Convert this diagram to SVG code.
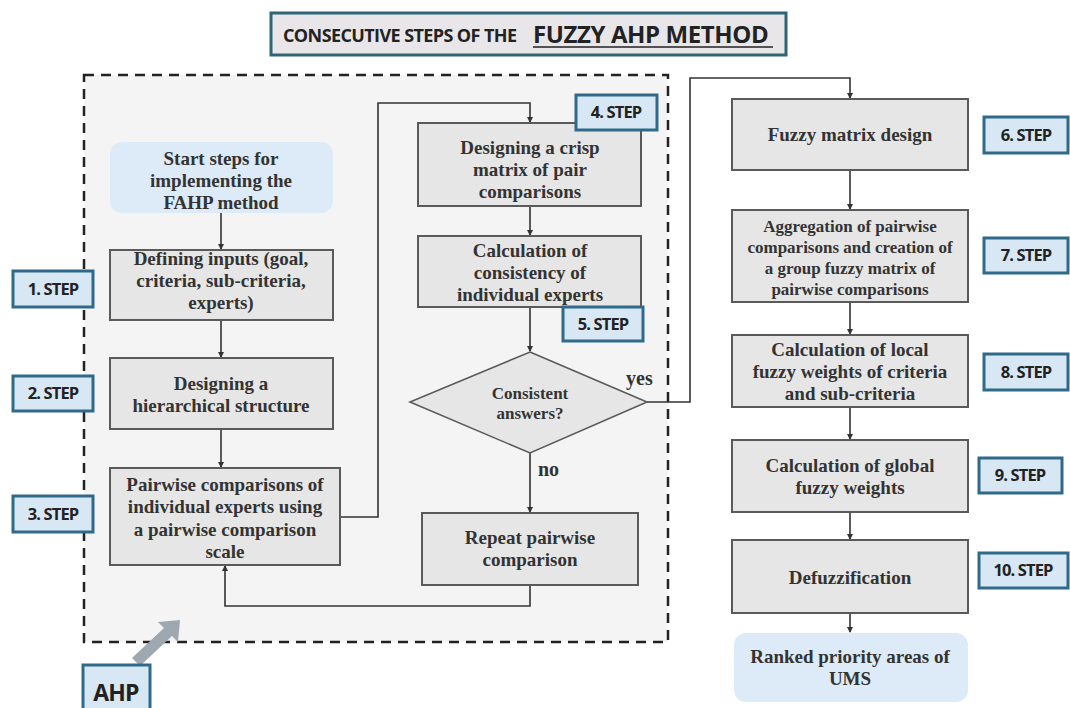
<svg xmlns="http://www.w3.org/2000/svg" width="1070" height="708" viewBox="0 0 1070 708">
<defs>
<marker id="ah" markerWidth="6" markerHeight="6" refX="5" refY="3" orient="auto" markerUnits="userSpaceOnUse">
<path d="M0,0 L6,3 L0,6 z" fill="#333"/>
</marker>
<style>
.box{fill:#e6e6e6;stroke:#5a5a5a;stroke-width:2}
.start{fill:#dcebf7;stroke:none}
.step{fill:#d7e7f3;stroke:#2f6a8a;stroke-width:3}
.st{font-family:"Open Sans","Liberation Sans",sans-serif;font-weight:bold;font-size:16.5px;fill:#222;text-anchor:middle;letter-spacing:-0.9px}
.t{font-family:"Liberation Serif",serif;font-weight:bold;font-size:19px;fill:#333;text-anchor:middle}
.ts{font-family:"Liberation Serif",serif;font-weight:bold;font-size:17px;fill:#333;text-anchor:middle}
.c{fill:none;stroke:#333;stroke-width:1.6}
</style>
</defs>
<rect width="1070" height="708" fill="#ffffff"/>

<g id="title">
<rect x="271" y="13" width="515" height="42" fill="#e9e6ea" stroke="#2f6577" stroke-width="3"/>
<text x="283" y="42" font-family="'Open Sans','Liberation Sans',sans-serif" font-weight="bold" font-size="18" fill="#222" letter-spacing="-0.6">CONSECUTIVE STEPS OF THE</text>
<text x="533" y="43" font-family="'Open Sans','Liberation Sans',sans-serif" font-weight="bold" font-size="24" fill="#222" letter-spacing="-0.4">FUZZY AHP METHOD</text>
<line x1="533" y1="47" x2="773" y2="47" stroke="#222" stroke-width="1.6"/>
</g>

<g id="ahp-region">
<rect x="84" y="75" width="584" height="567" fill="#f4f4f4" stroke="#222" stroke-width="2.5" stroke-dasharray="10,7"/>
</g>

<g id="connectors">
<path class="c" d="M221,213 V249" marker-end="url(#ah)"/>
<path class="c" d="M221,320 V357" marker-end="url(#ah)"/>
<path class="c" d="M221,429 V467" marker-end="url(#ah)"/>
<path class="c" d="M340,517 H378 V103 H530 V122" marker-end="url(#ah)"/>
<path class="c" d="M530,206 V235" marker-end="url(#ah)"/>
<path class="c" d="M530,307 V351" marker-end="url(#ah)"/>
<path class="c" d="M530,453 V512" marker-end="url(#ah)"/>
<path class="c" d="M530,585 V606 H225 V566" marker-end="url(#ah)"/>
<path class="c" d="M647,402 H690 V78 H850 V98" marker-end="url(#ah)"/>
<path class="c" d="M850,170 V209" marker-end="url(#ah)"/>
<path class="c" d="M850,302 V334" marker-end="url(#ah)"/>
<path class="c" d="M850,407 V439" marker-end="url(#ah)"/>
<path class="c" d="M850,512 V539" marker-end="url(#ah)"/>
<path class="c" d="M850,613 V632" marker-end="url(#ah)"/>
<text x="626" y="385" font-family="'Liberation Serif',serif" font-weight="bold" font-size="20" fill="#333">yes</text>
<text x="538" y="476" font-family="'Liberation Serif',serif" font-weight="bold" font-size="20" fill="#333">no</text>
</g>

<g id="start">
<rect class="start" x="110" y="142" width="223" height="71" rx="12"/>
<text class="t" x="221" y="165">Start steps for</text>
<text class="t" x="221" y="187">implementing the</text>
<text class="t" x="221" y="209">FAHP method</text>
</g>

<g id="defining-inputs">
<rect class="box" x="110" y="250" width="223" height="70"/>
<text class="t" x="221" y="265">Defining inputs (goal,</text>
<text class="t" x="221" y="287">criteria, sub-criteria,</text>
<text class="t" x="221" y="309">experts)</text>
</g>

<g id="hierarchical">
<rect class="box" x="110" y="358" width="223" height="71"/>
<text class="t" x="221" y="390">Designing a</text>
<text class="t" x="221" y="412">hierarchical structure</text>
</g>

<g id="pairwise">
<rect class="box" x="110" y="468" width="230" height="97"/>
<text class="t" x="225" y="491">Pairwise comparisons of</text>
<text class="t" x="225" y="513">individual experts using</text>
<text class="t" x="225" y="536">a pairwise comparison</text>
<text class="t" x="225" y="558">scale</text>
</g>

<g id="crisp">
<rect class="box" x="418" y="123" width="223" height="83"/>
<text class="t" x="530" y="154">Designing a crisp</text>
<text class="t" x="530" y="176">matrix of pair</text>
<text class="t" x="530" y="198">comparisons</text>
</g>

<g id="consistency">
<rect class="box" x="418" y="236" width="223" height="71"/>
<text class="t" x="530" y="257">Calculation of</text>
<text class="t" x="530" y="279">consistency of</text>
<text class="t" x="530" y="301">individual experts</text>
</g>

<g id="decision">
<polygon points="530,352 647,402 530,453 410,402" fill="#e6e6e6" stroke="#5a5a5a" stroke-width="1.6"/>
<text class="ts" x="530" y="399">Consistent</text>
<text class="ts" x="530" y="419">answers?</text>
</g>

<g id="repeat">
<rect class="box" x="422" y="513" width="216" height="72"/>
<text class="t" x="530" y="544">Repeat pairwise</text>
<text class="t" x="530" y="566">comparison</text>
</g>

<g id="fuzzy-matrix">
<rect class="box" x="732" y="99" width="236" height="71"/>
<text class="t" x="850" y="141">Fuzzy matrix design</text>
</g>

<g id="aggregation">
<rect class="box" x="732" y="210" width="236" height="92"/>
<text class="ts" x="850" y="232">Aggregation of pairwise</text>
<text class="ts" x="850" y="253">comparisons and creation of</text>
<text class="ts" x="850" y="274">a group fuzzy matrix of</text>
<text class="ts" x="850" y="295">pairwise comparisons</text>
</g>

<g id="local-weights">
<rect class="box" x="732" y="335" width="236" height="72"/>
<text class="t" x="850" y="356">Calculation of local</text>
<text class="t" x="850" y="378">fuzzy weights of criteria</text>
<text class="t" x="850" y="400">and sub-criteria</text>
</g>

<g id="global-weights">
<rect class="box" x="732" y="440" width="236" height="72"/>
<text class="t" x="850" y="472">Calculation of global</text>
<text class="t" x="850" y="494">fuzzy weights</text>
</g>

<g id="defuzzification">
<rect class="box" x="732" y="540" width="236" height="73"/>
<text class="t" x="850" y="584">Defuzzification</text>
</g>

<g id="ranked">
<rect class="start" x="734" y="633" width="234" height="69" rx="12"/>
<text class="t" x="850" y="663">Ranked priority areas of</text>
<text class="t" x="850" y="685">UMS</text>
</g>

<g id="step1"><rect class="step" x="13" y="271" width="80" height="36"/><text class="st" x="53" y="295">1. STEP</text></g>
<g id="step2"><rect class="step" x="13" y="376" width="80" height="35"/><text class="st" x="53" y="399">2. STEP</text></g>
<g id="step3"><rect class="step" x="13" y="496" width="80" height="36"/><text class="st" x="53" y="520">3. STEP</text></g>
<g id="step4"><rect class="step" x="576" y="95" width="81" height="35"/><text class="st" x="616" y="118">4. STEP</text></g>
<g id="step5"><rect class="step" x="563" y="307" width="80" height="34"/><text class="st" x="603" y="330">5. STEP</text></g>
<g id="step6"><rect class="step" x="984" y="117" width="84" height="36"/><text class="st" x="1026" y="141">6. STEP</text></g>
<g id="step7"><rect class="step" x="984" y="238" width="84" height="35"/><text class="st" x="1026" y="261">7. STEP</text></g>
<g id="step8"><rect class="step" x="984" y="354" width="84" height="36"/><text class="st" x="1026" y="378">8. STEP</text></g>
<g id="step9"><rect class="step" x="979" y="458" width="83" height="35"/><text class="st" x="1020" y="481">9. STEP</text></g>
<g id="step10"><rect class="step" x="979" y="553" width="89" height="35"/><text class="st" x="1023" y="576">10. STEP</text></g>

<g id="ahp">
<polygon points="132,658 164,628 158,622 180,620 178,642 172,636 140,666" fill="#9ea8b0"/>
<rect class="step" x="83" y="665" width="67" height="46"/>
<text x="116" y="701" font-family="'Open Sans','Liberation Sans',sans-serif" font-weight="bold" font-size="23" fill="#222" text-anchor="middle" letter-spacing="-0.8">AHP</text>
</g>
</svg>
